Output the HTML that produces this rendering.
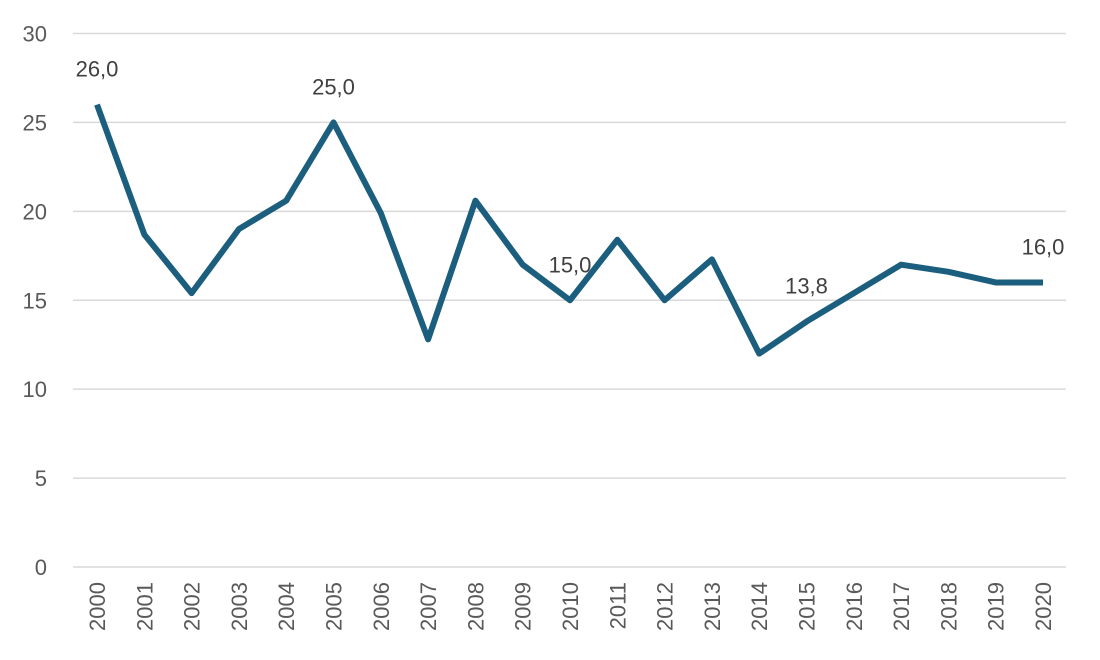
<!DOCTYPE html>
<html><head><meta charset="utf-8"><style>
html,body{margin:0;padding:0;background:#fff;}
svg{display:block;font-family:"Liberation Sans",sans-serif;}
</style></head><body>
<svg id="chart" width="1100" height="660"></svg>
<script>
const years=["2000","2001","2002","2003","2004","2005","2006","2007","2008","2009","2010","2011","2012","2013","2014","2015","2016","2017","2018","2019","2020"];
const values=[26,18.7,15.4,19,20.6,25,19.9,12.8,20.6,17,15,18.4,15,17.3,12,13.8,15.4,17,16.6,16,16];
const yTicks=[0,5,10,15,20,25,30];
const labelIdx=[0,5,10,15,20];
const NS="http://www.w3.org/2000/svg";
const svg=document.getElementById('chart');
const x0=97,x1=1043,yTop=33.5,yBot=567;
function xs(i){return x0+i*(x1-x0)/(years.length-1);}
function ys(v){return yBot-(v/30)*(yBot-yTop);}
function mk(t,a){const e=document.createElementNS(NS,t);for(const k in a)e.setAttribute(k,a[k]);svg.appendChild(e);return e;}
yTicks.forEach(v=>{
 const g=mk('line',{x1:73,x2:1066,y1:ys(v),y2:ys(v),stroke:'#d9d9d9','stroke-width':1.5});
 
 
 const t=mk('text',{x:47,y:ys(v)+8,'text-anchor':'end','font-size':22,fill:'#595959'});
 t.textContent=v;
 
 
});
years.forEach((y,i)=>{
 const t=mk('text',{x:0,y:0,'text-anchor':'end','font-size':22,fill:'#595959',transform:`translate(${xs(i)+8},582) rotate(-90)`});
 t.textContent=y;
 
 
});
const p=mk('polyline',{points:values.map((v,i)=>xs(i)+','+ys(v)).join(' '),fill:'none',stroke:'#1b5e7e','stroke-width':6,'stroke-linejoin':'round'});


labelIdx.forEach(i=>{
 const t=mk('text',{x:xs(i),y:ys(values[i])-28,'text-anchor':'middle','font-size':22,fill:'#404040'});
 t.textContent=values[i].toFixed(1).replace('.',',');
 
 
});
</script>
</body></html>
